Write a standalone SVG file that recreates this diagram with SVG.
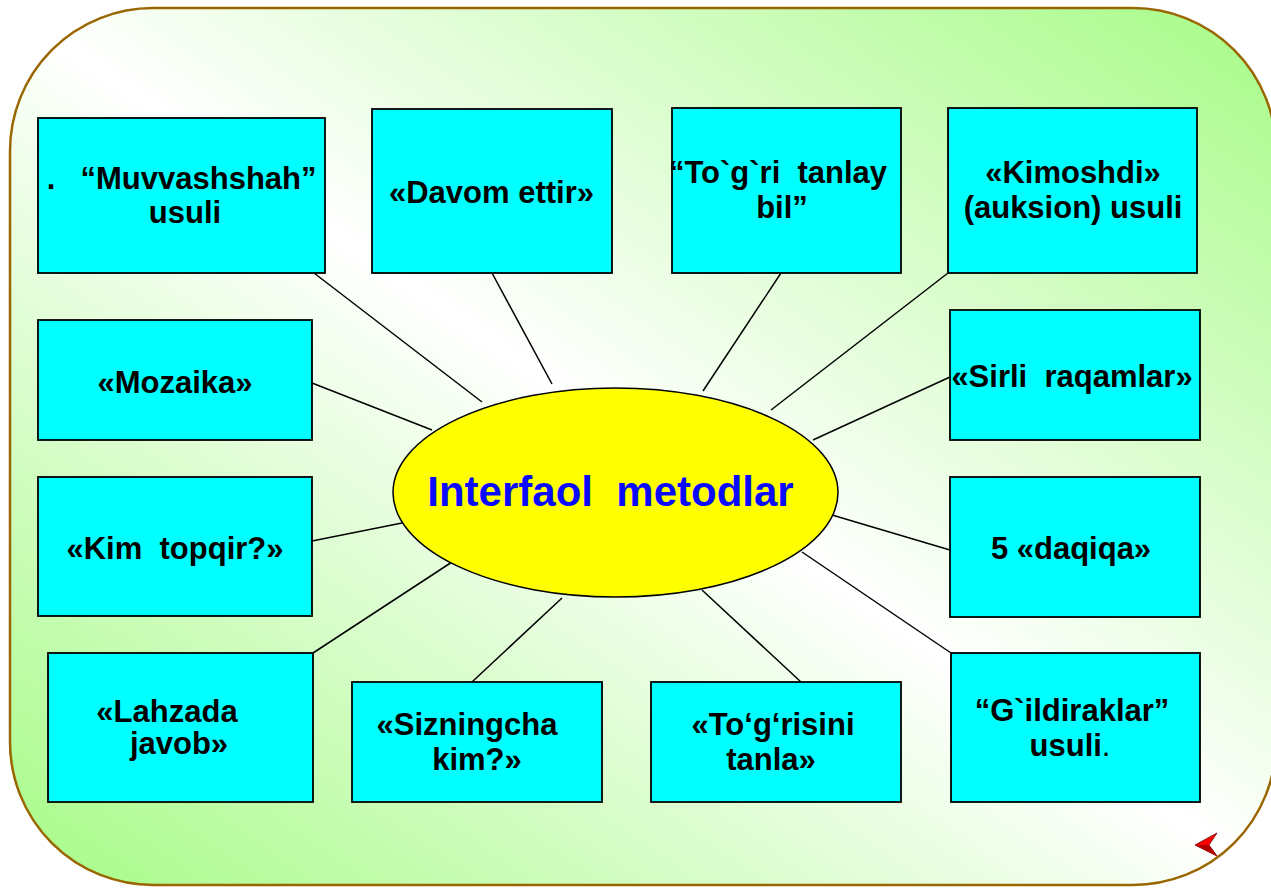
<svg xmlns="http://www.w3.org/2000/svg" width="1271" height="888" viewBox="0 0 1271 888">
<defs>
<linearGradient id="bg" x1="1" y1="0" x2="0" y2="1">
<stop offset="0" stop-color="#a6fb86"/>
<stop offset="0.5" stop-color="#ffffff"/>
<stop offset="1" stop-color="#a6fb86"/>
</linearGradient>
<style>
.box{fill:#00ffff;stroke:#000;stroke-width:1.8}
.t{font-family:"Liberation Sans",Arial,sans-serif;font-weight:bold;font-size:31px;fill:#000;text-anchor:middle}
.c{stroke:#000;stroke-width:1.5;fill:none}
</style>
</defs>
<rect x="10" y="8" width="1266" height="877" rx="143" ry="143" fill="url(#bg)" stroke="#996600" stroke-width="2.5"/>
<g id="connectors">
<line class="c" x1="314" y1="273" x2="482" y2="402"/>
<line class="c" x1="492" y1="273" x2="552" y2="384"/>
<line class="c" x1="781" y1="273" x2="703" y2="391"/>
<line class="c" x1="948" y1="273" x2="771" y2="410"/>
<line class="c" x1="312" y1="383" x2="432" y2="430"/>
<line class="c" x1="950" y1="377" x2="813" y2="440"/>
<line class="c" x1="312" y1="541" x2="402" y2="523"/>
<line class="c" x1="950" y1="550" x2="832" y2="515"/>
<line class="c" x1="313" y1="653" x2="452" y2="562"/>
<line class="c" x1="472" y1="682" x2="562" y2="598"/>
<line class="c" x1="801" y1="682" x2="702" y2="590"/>
<line class="c" x1="951" y1="653" x2="802" y2="552"/>
</g>
<g id="center">
<ellipse cx="615.5" cy="492.5" rx="222.5" ry="104.5" fill="#ffff00" stroke="#000" stroke-width="1.5"/>
<text x="610.5" y="506" style="font-family:'Liberation Sans',Arial,sans-serif;font-weight:bold;font-size:42px;fill:#0a0aff;text-anchor:middle" xml:space="preserve">Interfaol  metodlar</text>
</g>
<g id="n1"><rect class="box" x="38" y="118" width="287" height="155"/>
<text class="t" x="51" y="189">.</text>
<text class="t" x="198.5" y="189">“Muvvashshah”</text>
<text class="t" x="185" y="223">usuli</text></g>
<g id="n2"><rect class="box" x="372" y="109" width="240" height="164"/>
<text class="t" x="491.5" y="203">«Davom ettir»</text></g>
<g id="n3"><rect class="box" x="672" y="108" width="229" height="165"/>
<text class="t" x="778" y="183" xml:space="preserve">“To`g`ri  tanlay</text>
<text class="t" x="782" y="218">bil”</text></g>
<g id="n4"><rect class="box" x="948" y="108" width="249" height="165"/>
<text class="t" x="1073" y="183">«Kimoshdi»</text>
<text class="t" x="1073" y="218">(auksion) usuli</text></g>
<g id="n5"><rect class="box" x="38" y="320" width="274" height="120"/>
<text class="t" x="175" y="393">«Mozaika»</text></g>
<g id="n6"><rect class="box" x="950" y="310" width="250" height="130"/>
<text class="t" x="1072" y="387" xml:space="preserve">«Sirli  raqamlar»</text></g>
<g id="n7"><rect class="box" x="38" y="477" width="274" height="139"/>
<text class="t" x="175" y="559" xml:space="preserve">«Kim  topqir?»</text></g>
<g id="n8"><rect class="box" x="950" y="477" width="250" height="140"/>
<text class="t" x="1071" y="559">5 «daqiqa»</text></g>
<g id="n9"><rect class="box" x="48" y="653" width="265" height="149"/>
<text class="t" x="167" y="722">«Lahzada</text>
<text class="t" x="179" y="754">javob»</text></g>
<g id="n10"><rect class="box" x="352" y="682" width="250" height="120"/>
<text class="t" x="467" y="735">«Sizningcha</text>
<text class="t" x="477" y="770">kim?»</text></g>
<g id="n11"><rect class="box" x="651" y="682" width="250" height="120"/>
<text class="t" x="773" y="735">«To‘g‘risini</text>
<text class="t" x="771" y="770">tanla»</text></g>
<g id="n12"><rect class="box" x="951" y="653" width="249" height="149"/>
<text class="t" x="1072" y="721">“G`ildiraklar”</text>
<text class="t" x="1070" y="756">usuli<tspan font-weight="normal">.</tspan></text></g>
<g id="back-arrow">
<polygon points="1195,845 1217,833 1209,845 1217,856" fill="#ff0000" stroke="#660000" stroke-width="0.8"/>
<polygon points="1195,845 1209,845 1217,856" fill="#b00000"/>
</g>
</svg>
